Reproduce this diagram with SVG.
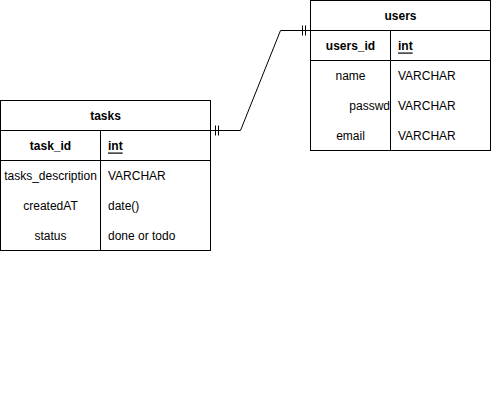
<svg xmlns="http://www.w3.org/2000/svg" width="491" height="402" viewBox="0 0 491 402">
  <style>
    .box { fill: #ffffff; stroke: #000000; stroke-width: 1; }
    .ln { fill: none; stroke: #000000; stroke-width: 1; }
    text { font-family: "Liberation Sans", Arial, Helvetica, sans-serif; font-size: 12px; fill: #000000; dominant-baseline: central; }
    .title { font-weight: bold; text-anchor: middle; }
    .key { font-weight: bold; text-anchor: middle; }
    .pk { text-decoration: underline; font-weight: bold; }
    .c { text-anchor: middle; }
  </style>
  <rect width="491" height="402" fill="#ffffff"/>

  <g id="connectors">
    <path class="ln" d="M210.5 130.5 L240.5 130.5 L280.5 30.5 L310.5 30.5"/>
    <!-- mandatory-one marks near tasks -->
    <path class="ln" d="M215.5 125.5 V135.5 M218.5 125.5 V135.5"/>
    <!-- mandatory-one marks near users -->
    <path class="ln" d="M302.5 25.5 V35.5 M305.5 25.5 V35.5"/>
  </g>

  <g id="users">
    <rect class="box" x="310.5" y="0.5" width="180" height="150"/>
    <path class="ln" d="M310.5 30.5 H490.5 M310.5 60.5 H490.5 M390.5 30.5 V150.5"/>
    <text class="title" x="400.5" y="15.5">users</text>
    <text class="key" x="350.5" y="45.5">users_id</text>
    <text class="pk" x="398" y="45.5">int</text>
    <text class="c" x="350.5" y="75.5">name</text>
    <text x="398" y="75.5">VARCHAR</text>
    <text x="390" y="105.5" text-anchor="end">passwd</text>
    <text x="398" y="105.5">VARCHAR</text>
    <text class="c" x="350.5" y="135.5">email</text>
    <text x="398" y="135.5">VARCHAR</text>
  </g>

  <g id="tasks">
    <rect class="box" x="0.5" y="100.5" width="210" height="150"/>
    <path class="ln" d="M0.5 130.5 H210.5 M0.5 160.5 H210.5 M100.5 130.5 V250.5"/>
    <text class="title" x="105.5" y="115.5">tasks</text>
    <text class="key" x="50.5" y="145.5">task_id</text>
    <text class="pk" x="108" y="145.5">int</text>
    <text class="c" x="50.5" y="175.5">tasks_description</text>
    <text x="108" y="175.5">VARCHAR</text>
    <text class="c" x="50.5" y="205.5">createdAT</text>
    <text x="108" y="205.5">date()</text>
    <text class="c" x="50.5" y="235.5">status</text>
    <text x="108" y="235.5">done or todo</text>
  </g>
</svg>
